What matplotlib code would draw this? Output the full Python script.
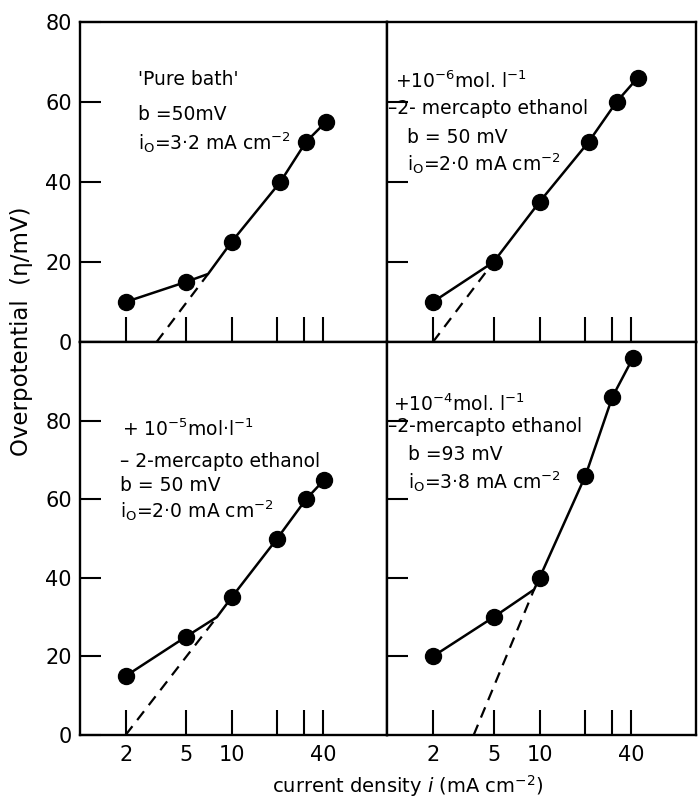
import numpy as np
import matplotlib
matplotlib.use("Agg")
import matplotlib.pyplot as plt
from matplotlib.ticker import NullLocator

plt.rcParams['font.family'] = 'DejaVu Sans'
plt.rcParams['mathtext.default'] = 'regular'

# data (current density in mA cm-2, overpotential in mV)
pure_i = [2, 5, 10, 21, 31, 42]
pure_eta = [10, 15, 25, 40, 50, 55]
pure_knee = (7, 17)
pure_tafel_i = [3.2, 7]
pure_tafel_eta = [0, 17]

m6_i = [2, 5, 10, 21, 32, 44]
m6_eta = [10, 20, 35, 50, 60, 66]
m6_tafel_i = [2, 5]
m6_tafel_eta = [0, 20]

m5_i = [2, 5, 10, 20, 31, 41]
m5_eta = [15, 25, 35, 50, 60, 65]
m5_knee = (8, 30)
m5_tafel_i = [2, 8]
m5_tafel_eta = [0, 30]

m4_i = [2, 5, 10, 20, 30, 41]
m4_eta = [20, 30, 40, 66, 86, 96]
m4_knee = (9.2, 37)
m4_tafel_i = [3.7, 9.2]
m4_tafel_eta = [0, 37]

x_ticks = [2, 5, 10, 20, 30, 40]
x_ticklabels = ['2', '5', '10', '', '', '40']

fig = plt.figure(figsize=(6.98, 7.98), dpi=100)
L, M, R = 80 / 698, 387 / 698, 696 / 698
yt, ym, yb = 1 - 21.7 / 798, 1 - 342 / 798, 1 - 735 / 798

ax1 = fig.add_axes([L, ym, M - L, yt - ym])
ax2 = fig.add_axes([M, ym, R - M, yt - ym])
ax3 = fig.add_axes([L, yb, M - L, ym - yb])
ax4 = fig.add_axes([M, yb, R - M, ym - yb])


def solid_path(xs, ys, knee=None):
    xs, ys = list(xs), list(ys)
    if knee is not None:
        # break point between the 2nd and 3rd measured points
        xs = xs[:2] + [knee[0]] + xs[2:]
        ys = ys[:2] + [knee[1]] + ys[2:]
    return xs, ys


def draw(ax, xs, ys, knee, tx, ty, top):
    px, py = solid_path(xs, ys, knee)
    ax.plot(px, py, color='black', lw=1.8, zorder=2)
    ax.plot(xs, ys, 'o', color='black', ms=11.5, zorder=3)
    ax.plot(tx, ty, color='black', lw=1.6, ls=(0, (5, 3.5)), zorder=2)
    ax.set_xscale('log')
    ax.set_xlim(1, 106)
    ax.xaxis.set_minor_locator(NullLocator())
    ax.set_xticks(x_ticks)
    ax.set_ylim(0, 80 if top else 100)
    for s in ax.spines.values():
        s.set_linewidth(1.7)
    ax.tick_params(axis='x', direction='in', length=18, width=1.5, pad=7,
                   labelsize=15)
    ax.tick_params(axis='y', direction='in', length=15, width=1.5, pad=6,
                   labelsize=15)
    if top:
        ax.set_xticklabels([])
    else:
        ax.set_xticklabels(x_ticklabels)


draw(ax1, pure_i, pure_eta, pure_knee, pure_tafel_i, pure_tafel_eta, True)
draw(ax2, m6_i, m6_eta, None, m6_tafel_i, m6_tafel_eta, True)
draw(ax3, m5_i, m5_eta, m5_knee, m5_tafel_i, m5_tafel_eta, False)
draw(ax4, m4_i, m4_eta, m4_knee, m4_tafel_i, m4_tafel_eta, False)

ax1.set_yticks([0, 20, 40, 60, 80])
ax2.set_yticks([20, 40, 60])
ax2.set_yticklabels([])
ax3.set_yticks([0, 20, 40, 60, 80])
ax4.set_yticks([20, 40, 60, 80])
ax4.set_yticklabels([])

fs = 13.5
kw = dict(va='center', ha='left', fontsize=fs)
ax1.text(0.189, 0.818, "'Pure bath'", transform=ax1.transAxes, **kw)
ax1.text(0.189, 0.709, "b =50mV", transform=ax1.transAxes, **kw)
ax1.text(0.189, 0.624, "i$_O$=3·2 mA cm$^{-2}$", transform=ax1.transAxes, **kw)

ax2.text(0.026, 0.815, "+10$^{-6}$mol. l$^{-1}$", transform=ax2.transAxes, **kw)
ax2.text(0.003, 0.730, "–2- mercapto ethanol", transform=ax2.transAxes, **kw)
ax2.text(0.064, 0.640, "b = 50 mV", transform=ax2.transAxes, **kw)
ax2.text(0.064, 0.558, "i$_O$=2·0 mA cm$^{-2}$", transform=ax2.transAxes, **kw)

ax3.text(0.136, 0.778, "+ 10$^{-5}$mol·l$^{-1}$", transform=ax3.transAxes, **kw)
ax3.text(0.130, 0.697, "– 2-mercapto ethanol", transform=ax3.transAxes, **kw)
ax3.text(0.130, 0.634, "b = 50 mV", transform=ax3.transAxes, **kw)
ax3.text(0.130, 0.570, "i$_O$=2·0 mA cm$^{-2}$", transform=ax3.transAxes, **kw)

ax4.text(0.020, 0.841, "+10$^{-4}$mol. l$^{-1}$", transform=ax4.transAxes, **kw)
ax4.text(0.004, 0.786, "–2-mercapto ethanol", transform=ax4.transAxes, **kw)
ax4.text(0.069, 0.714, "b =93 mV", transform=ax4.transAxes, **kw)
ax4.text(0.069, 0.646, "i$_O$=3·8 mA cm$^{-2}$", transform=ax4.transAxes, **kw)

fig.text(22 / 698, 1 - 331 / 798, "Overpotential  (η/mV)", rotation=90,
         ha='center', va='center', fontsize=16.5)
fig.text(408 / 698, 1 - 786 / 798, "current density $\\mathit{i}$ (mA cm$^{-2}$)",
         ha='center', va='center', fontsize=14)

fig.savefig("out.png", dpi=100)
